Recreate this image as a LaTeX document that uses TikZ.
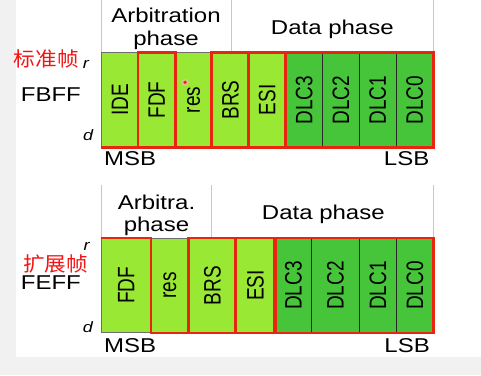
\documentclass[tikz,border=0pt]{standalone}
\usepackage{fontspec}
\setmainfont{Liberation Sans}
\newfontfamily\cjk{Noto Sans CJK SC}
\usepackage{graphicx}
\definecolor{lightg}{RGB}{152,232,52}
\definecolor{darkg}{RGB}{70,196,58}
\definecolor{redl}{RGB}{232,38,16}
\definecolor{cellline}{RGB}{110,110,110}
\definecolor{sepline}{RGB}{40,40,40}
\definecolor{hdrline}{RGB}{200,200,200}
\definecolor{panelgrey}{RGB}{241,241,241}
\definecolor{cjkred}{RGB}{245,20,20}
\newcommand\hs[1]{\scalebox{1.2}[1]{#1}}
\newcommand\vs[1]{\scalebox{1}[1.25]{#1}}
\tikzset{
  lbl/.style={inner sep=0pt, font=\fontsize{20}{24}\selectfont},
  rd/.style={inner sep=0pt, font=\fontsize{15}{18}\selectfont\itshape},
  cjklbl/.style={inner sep=0pt, text=cjkred, font=\cjk\fontsize{20}{24}\selectfont},
  cellbox/.style={draw=cellline, line width=0.6pt, rotate=90, inner sep=0pt,
    font=\fontsize{19}{19}\selectfont},
  topcell/.style={cellbox, minimum width=94.6pt},
  botcell/.style={cellbox, minimum width=94.4pt},
  lg/.style={fill=lightg},
  dg/.style={fill=darkg},
  hdr/.style={draw=hdrline, line width=0.8pt},
  redbox/.style={draw=redl, line width=2.6pt, line join=miter},
  sep/.style={draw=sepline, line width=0.7pt}
}
% rotated cells: north east = top-left, south east = top-right,
% north west = bottom-left, south west = bottom-right
\begin{document}
\begin{tikzpicture}[x=1pt,y=-1pt]
\useasboundingbox (0,0) rectangle (481,375);
\fill[panelgrey] (0,0) rectangle (481,375);
\fill[white] (16,0) rectangle (481,357);

% ---------- top figure (FBFF) ----------
\draw[hdr] (101.5,0) -- (101.5,52.7);
\draw[hdr] (231,0) -- (231,52.7);
\draw[hdr] (433,0) -- (433,52.7);
\node[lbl, anchor=base] (arb1) at (166,22.7) {\hs{Arbitration}};
\node[lbl, anchor=base] (ph1) at (166,45) {\hs{phase}};
\node[lbl, anchor=base] (dp1) at (332.3,34.3) {\hs{Data phase}};

\node[topcell, lg, minimum height=36.8pt] (t1) at (119.9,100) {\vs{IDE}};
\node[topcell, lg, minimum height=36.8pt] (t2) at (156.75,100) {\vs{FDF}};
\node[topcell, lg, minimum height=36.8pt] (t3) at (193.6,100) {\vs{res}};
\node[topcell, lg, minimum height=36.8pt] (t4) at (230.4,100) {\vs{BRS}};
\node[topcell, lg, minimum height=36.8pt] (t5) at (267.25,100) {\vs{ESI}};
\node[topcell, dg, draw=sepline, minimum height=36.8pt] (t6) at (304.1,100) {\vs{DLC3}};
\node[topcell, dg, draw=sepline, minimum height=36.8pt] (t7) at (340.9,100) {\vs{DLC2}};
\node[topcell, dg, draw=sepline, minimum height=36.8pt] (t8) at (377.75,100) {\vs{DLC1}};
\node[topcell, dg, draw=sepline, minimum height=36.8pt] (t9) at (414.6,100) {\vs{DLC0}};

\draw[redbox] (t1.north west) -- (t9.south west);
\draw[redbox] (t2.north east) rectangle (t2.south west);
\draw[redbox] (t4.north east) rectangle (t4.south west);
\draw[redbox] (t5.north east) rectangle (t5.south west);
\draw[redbox] (t6.north east) rectangle (t9.south west);

\fill[red!30, opacity=0.6] (185,82.3) circle (3.8);
\fill[redl] (185,82.3) circle (1.8);

\node[cjklbl] (std) at (46.2,58.8) {\scalebox{1.08}[1]{标准帧}};
\node[rd, anchor=base west] (r1) at (82.7,68.3) {\hs{r}};
\node[lbl, anchor=base west] (fbff) at (20.7,101.7) {\hs{FBFF}};
\node[rd, anchor=base west] (d1) at (83,140) {\hs{d}};
\node[lbl, anchor=base west] (msb1) at (104,165.7) {\hs{MSB}};
\node[lbl, anchor=base east] (lsb1) at (429.5,165.7) {\hs{LSB}};

% ---------- bottom figure (FEFF) ----------
\draw[hdr] (101.5,185) -- (101.5,238.3);
\draw[hdr] (211.7,185) -- (211.7,238.3);
\draw[hdr] (433,185) -- (433,238.3);
\node[lbl, anchor=base] (arb2) at (156.5,209.3) {\hs{Arbitra.}};
\node[lbl, anchor=base] (ph2) at (156.5,231.5) {\hs{phase}};
\node[lbl, anchor=base] (dp2) at (323.3,219.3) {\hs{Data phase}};

\node[botcell, lg, minimum height=49.2pt] (b1) at (126.1,285.5) {\vs{FDF}};
\node[botcell, lg, minimum height=38.3pt] (b2) at (169.85,285.5) {\vs{res}};
\node[botcell, lg, minimum height=46.7pt] (b3) at (212.35,285.5) {\vs{BRS}};
\node[botcell, lg, minimum height=39.3pt] (b4) at (255.35,285.5) {\vs{ESI}};
\node[botcell, dg, draw=sepline, minimum height=36.7pt] (b5) at (293.35,285.5) {\vs{DLC3}};
\node[botcell, dg, draw=sepline, minimum height=47.6pt] (b6) at (335.5,285.5) {\vs{DLC2}};
\node[botcell, dg, draw=sepline, minimum height=37.4pt] (b7) at (378,285.5) {\vs{DLC1}};
\node[botcell, dg, draw=sepline, minimum height=36.3pt] (b8) at (414.85,285.5) {\vs{DLC0}};

\draw[redbox] (b1.north east) -- (b1.south east) -- (b1.south west) -- (b8.south west);
\draw[redbox] (b3.north east) rectangle (b3.south west);
\draw[redbox] (b4.north east) rectangle (b4.south west);
\draw[redbox] (b5.north east) rectangle (b8.south west);

\node[rd, anchor=base west] (r2) at (83.3,250) {\hs{r}};
\node[cjklbl] (ext) at (55.7,263.8) {\scalebox{1.08}[1]{扩展帧}};
\node[lbl, anchor=base west] (feff) at (20.7,289) {\hs{FEFF}};
\node[rd, anchor=base west] (d2) at (82.7,332.7) {\hs{d}};
\node[lbl, anchor=base west] (msb2) at (104,352.7) {\hs{MSB}};
\node[lbl, anchor=base east] (lsb2) at (430,352.7) {\hs{LSB}};
\end{tikzpicture}
\end{document}
